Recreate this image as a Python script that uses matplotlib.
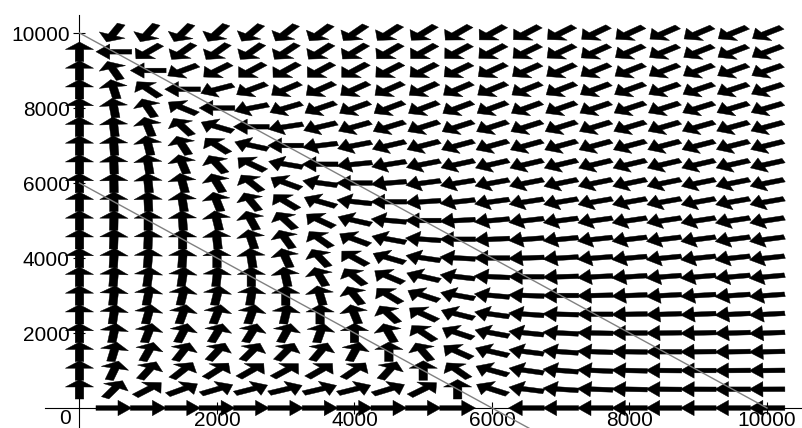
import numpy as np
import matplotlib.pyplot as plt
from matplotlib.collections import PolyCollection

plt.rcParams['font.family'] = ['Liberation Sans', 'DejaVu Sans']

# competition model, nullclines x+y=K1 (for x) and x+y=K2 (for y)
K1 = 6000
K2 = 10000

# grid of the direction field
xs = np.arange(0, 10001, 500)
ys = np.arange(0, 10001, 500)

xticks = [2000, 4000, 6000, 8000, 10000]
yticks = [2000, 4000, 6000, 8000, 10000]

# arrow shape (data units)
L = 520
sw = 62
hw = 205
hl = 200

X, Y = np.meshgrid(xs, ys)
U = X * (K1 - X - Y)
V = Y * (K2 - X - Y)
mag = np.hypot(U, V)

shape = np.array([(-L/2, sw), (L/2-hl, sw), (L/2-hl, hw), (L/2, 0),
                  (L/2-hl, -hw), (L/2-hl, -sw), (-L/2, -sw)])

polys = []
for x0, y0, u, v, m in zip(X.ravel(), Y.ravel(), U.ravel(), V.ravel(), mag.ravel()):
    if m == 0:
        continue
    dx, dy = u / m, v / m
    px = x0 + shape[:, 0] * dx - shape[:, 1] * dy
    py = y0 + shape[:, 0] * dy + shape[:, 1] * dx
    polys.append(np.column_stack([px, py]))

fig = plt.figure(figsize=(8.02, 4.28), dpi=100)
ax = fig.add_axes([0, 0, 1, 1])
ax.set_xlim(-1156, 10509)
ax.set_ylim(-533, 10880)

ax.add_collection(PolyCollection(polys, facecolors='black', edgecolors='black',
                                 linewidths=0.3, zorder=3))

line_x = np.array([0, 10000])
ax.plot(line_x, K2 - line_x, color='#808080', lw=1.0, zorder=4)
ax.plot(line_x, K1 - line_x, color='#808080', lw=1.0, zorder=4)

for s in ['top', 'right']:
    ax.spines[s].set_visible(False)
ax.spines['left'].set_position(('data', 0))
ax.spines['bottom'].set_position(('data', 0))
ax.spines['left'].set_bounds(-533, 10480)
ax.spines['bottom'].set_bounds(-500, 10509)
ax.spines['left'].set_linewidth(0.8)
ax.spines['bottom'].set_linewidth(0.8)

ax.set_xticks(xticks)
ax.set_yticks(yticks)
ax.set_xticklabels([str(t) for t in xticks])
ax.set_yticklabels([str(t) for t in yticks])
ax.tick_params(axis='y', direction='inout', length=8, width=0.8, labelsize=15, pad=3)
ax.tick_params(axis='x', direction='inout', length=8, width=0.8, labelsize=15, pad=-2)
ax.text(-211, -267, '0', ha='center', va='center', fontsize=15)

fig.savefig('out.png', dpi=100)
